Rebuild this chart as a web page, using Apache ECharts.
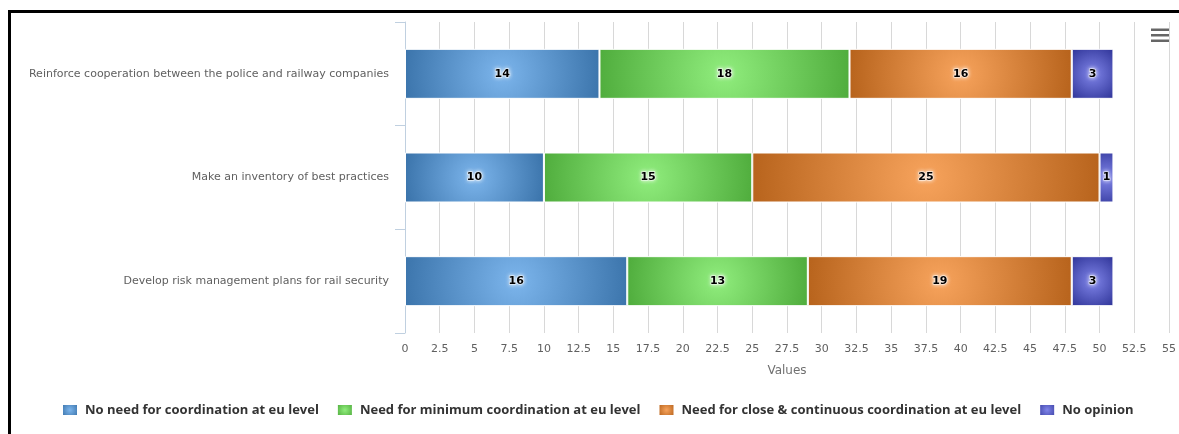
<!DOCTYPE html>
<html>
<head>
<meta charset="utf-8">
<script src="https://cdn.jsdelivr.net/npm/echarts@6/dist/echarts.min.js"></script>
<style>
  html, body { margin: 0; padding: 0; background: #fff; }
  #frame { position: absolute; left: 8px; top: 10px; width: 1300px; height: 600px; border-left: 3px solid #000; border-top: 3px solid #000; box-sizing: border-box; pointer-events: none; }
  #chart { position: absolute; left: 0; top: 0; width: 1179px; height: 434px; }
</style>
</head>
<body>
<div id="frame"></div>
<div id="chart"></div>
<script>
const categories = [
  'Reinforce cooperation between the police and railway companies',
  'Make an inventory of best practices',
  'Develop risk management plans for rail security'
];
const seriesNames = [
  'No need for coordination at eu level',
  'Need for minimum coordination at eu level',
  'Need for close & continuous coordination at eu level',
  'No opinion'
];
const noNeed = [14, 10, 16];
const minimumNeed = [18, 15, 13];
const closeNeed = [16, 25, 19];
const noOpinion = [3, 1, 3];
const axisMin = 0, axisMax = 55, axisStep = 2.5;

const baseColors = ['#7cb5ec', '#90ed7d', '#f7a35c', '#8085e9'];
const darkColors = ['#3069a0', '#44a131', '#ab5710', '#34399d'];
const valueSets = [noNeed, minimumNeed, closeNeed, noOpinion];

const PX_PER_UNIT = 766 / 55;
const BAR_H = 50;

function radial(i, w, h) {
  const r = 0.6 * Math.max(w, h) / Math.min(w, h);
  return {
    type: 'radial', x: 0.5, y: 0.5, r: r,
    colorStops: [{ offset: 0, color: baseColors[i] }, { offset: 1, color: darkColors[i] }]
  };
}

const FONT = 'DejaVu Sans';
const LEGEND_FONT = 'Open Sans';

const series = valueSets.map((vals, i) => ({
  name: seriesNames[i],
  type: 'bar',
  stack: 'total',
  barWidth: BAR_H,
  itemStyle: { color: radial(i, 16, 12), borderColor: '#ffffff', borderWidth: 1 },
  label: {
    show: true,
    position: 'inside',
    color: '#000',
    fontFamily: FONT,
    fontWeight: 'bold',
    fontSize: 11,
    textBorderColor: 'rgba(255,255,255,0.6)',
    textBorderWidth: 1.5,
    textShadowColor: '#fff',
    textShadowBlur: 4
  },
  data: vals.map(v => ({
    value: v,
    itemStyle: { color: radial(i, v * PX_PER_UNIT, BAR_H) }
  }))
}));

const chart = echarts.init(document.getElementById('chart'), null, { renderer: 'canvas' });
chart.setOption({
  backgroundColor: 'transparent',
  animation: false,
  grid: { left: 405, right: 8, top: 22, bottom: 101, containLabel: false },
  xAxis: {
    type: 'value',
    min: axisMin, max: axisMax, interval: axisStep,
    name: 'Values',
    nameLocation: 'middle',
    nameGap: 32,
    nameTextStyle: { color: '#707070', fontFamily: FONT, fontSize: 12 },
    axisLine: { show: false },
    axisTick: { show: false },
    axisLabel: { color: '#606060', fontFamily: FONT, fontSize: 11, margin: 11 },
    splitLine: { show: true, lineStyle: { color: '#d8d8d8', width: 1 } }
  },
  yAxis: {
    type: 'category',
    inverse: true,
    data: categories,
    axisLine: { show: true, lineStyle: { color: '#c0d0e0', width: 1 } },
    axisTick: { show: true, length: 10, lineStyle: { color: '#c0d0e0' } },
    axisLabel: { color: '#606060', fontFamily: FONT, fontSize: 11, margin: 16 },
    splitLine: { show: false }
  },
  legend: {
    bottom: 12,
    left: 56,
    itemWidth: 16,
    itemHeight: 12,
    itemGap: 17,
    icon: 'rect',
    textStyle: { color: '#333', fontFamily: LEGEND_FONT, fontWeight: 'bold', fontSize: 13, padding: [0, 0, 0, 2] },
    data: seriesNames
  },
  graphic: [
    { type: 'rect', left: 1151, top: 28.5, shape: { width: 18, height: 2.5 }, style: { fill: '#666' } },
    { type: 'rect', left: 1151, top: 34, shape: { width: 18, height: 2.5 }, style: { fill: '#666' } },
    { type: 'rect', left: 1151, top: 39.5, shape: { width: 18, height: 2.5 }, style: { fill: '#666' } }
  ],
  series: series
});
</script>
</body>
</html>
